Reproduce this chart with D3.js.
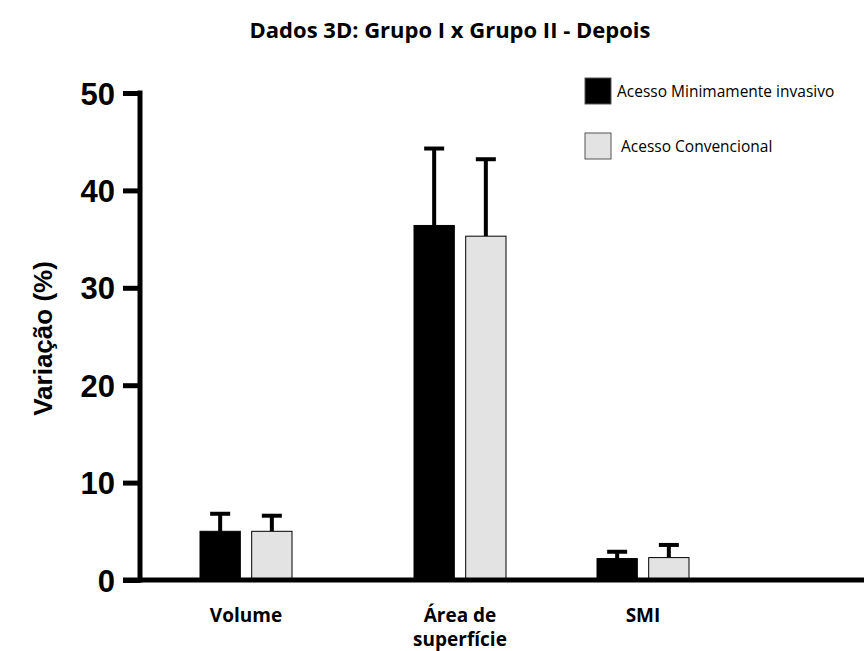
<!DOCTYPE html>
<html>
<head>
<meta charset="utf-8">
<script src="https://cdn.jsdelivr.net/npm/d3@7"></script>
<style>
  body { margin: 0; background: #fff; }
  svg { display: block; }
</style>
</head>
<body>
<div id="chart"></div>
<script>
// data
var categories = ['Volume', 'Área de superfície', 'SMI'];
var catLines = [['Volume'], ['Área de', 'superfície'], ['SMI']];
var seriesNames = ['Acesso Minimamente invasivo', 'Acesso Convencional'];
var seriesColors = ['#000', '#e3e3e3'];
var meanMin = [5.0, 36.4, 2.2];
var errMin = [1.8, 7.9, 0.7];
var meanConv = [5.0, 35.3, 2.3];
var errConv = [1.6, 7.9, 1.3];
var yTicks = [0, 10, 20, 30, 40, 50];

var W = 864, H = 651;
var svg = d3.select('#chart').append('svg')
    .attr('width', W)
    .attr('height', H);

var y = d3.scaleLinear().domain([0, 50]).range([580, 93]);
var x = d3.scaleOrdinal().domain(categories).range([246, 460, 643]);
var series = d3.scaleBand().domain(seriesNames).range([-46, 46]).paddingInner(0.22);

// title
svg.append('text')
    .attr('x', 450)
    .attr('y', 38)
    .attr('text-anchor', 'middle')
    .style('font-family', '"Open Sans", sans-serif')
    .style('font-weight', 'bold')
    .style('font-size', '22px')
    .text('Dados 3D: Grupo I x Grupo II - Depois');

// bars
var rows = [];
categories.forEach(function(c, i) {
    rows.push({cat: c, s: seriesNames[0], v: meanMin[i], e: errMin[i], col: seriesColors[0]});
    rows.push({cat: c, s: seriesNames[1], v: meanConv[i], e: errConv[i], col: seriesColors[1]});
});

var g = svg.append('g');

// error bars first (behind bars)
var eb = g.selectAll('g.err').data(rows).enter().append('g').attr('class', 'err');
eb.append('line')
    .attr('x1', function(d) { return x(d.cat) + series(d.s) + series.bandwidth() / 2; })
    .attr('x2', function(d) { return x(d.cat) + series(d.s) + series.bandwidth() / 2; })
    .attr('y1', function(d) { return y(d.v); })
    .attr('y2', function(d) { return y(d.v + d.e); })
    .attr('stroke', '#000')
    .attr('stroke-width', 4);
eb.append('line')
    .attr('x1', function(d) { return x(d.cat) + series(d.s) + series.bandwidth() / 2 - 10; })
    .attr('x2', function(d) { return x(d.cat) + series(d.s) + series.bandwidth() / 2 + 10; })
    .attr('y1', function(d) { return y(d.v + d.e); })
    .attr('y2', function(d) { return y(d.v + d.e); })
    .attr('stroke', '#000')
    .attr('stroke-width', 4);

g.selectAll('rect.bar').data(rows).enter().append('rect')
    .attr('class', 'bar')
    .attr('x', function(d) { return x(d.cat) + series(d.s); })
    .attr('y', function(d) { return y(d.v); })
    .attr('width', series.bandwidth())
    .attr('height', function(d) { return y(0) - y(d.v); })
    .attr('fill', function(d) { return d.col; })
    .attr('stroke', '#000')
    .attr('stroke-width', 1);

// y axis
var yAxis = d3.axisLeft(y).tickValues(yTicks).tickSize(17).tickPadding(8).tickSizeOuter(0);
var ag = svg.append('g').attr('transform', 'translate(140,0)').call(yAxis);
ag.select('.domain').remove();
ag.selectAll('.tick line').attr('stroke', '#000').attr('stroke-width', 5);
ag.selectAll('.tick text')
    .attr('dy', '0.36em')
    .style('font-family', '"Liberation Sans", Arial, sans-serif')
    .style('font-weight', 'bold')
    .style('font-size', '31px')
    .attr('fill', '#000');

// axis lines
svg.append('line')
    .attr('x1', 140).attr('x2', 140)
    .attr('y1', y(50) - 2.5).attr('y2', y(0) + 2.5)
    .attr('stroke', '#000').attr('stroke-width', 5);
svg.append('line')
    .attr('x1', 123).attr('x2', W)
    .attr('y1', y(0)).attr('y2', y(0))
    .attr('stroke', '#000').attr('stroke-width', 5);

// y label
svg.append('text')
    .attr('transform', 'translate(52,' + (y(25) + 2) + ') rotate(-90)')
    .attr('text-anchor', 'middle')
    .style('font-family', '"Liberation Sans", Arial, sans-serif')
    .style('font-weight', 'bold')
    .style('font-size', '26px')
    .text('Variação (%)');

// x labels
var xl = svg.selectAll('text.xlab').data(categories).enter().append('text')
    .attr('class', 'xlab')
    .attr('text-anchor', 'middle')
    .attr('y', 622)
    .style('font-family', '"Open Sans", sans-serif')
    .style('font-weight', 'bold')
    .style('font-size', '19px');
xl.each(function(d, i) {
    var t = d3.select(this);
    catLines[i].forEach(function(line, j) {
        t.append('tspan')
            .attr('x', x(d))
            .attr('dy', j === 0 ? 0 : 24)
            .text(line);
    });
});

// legend
var lg = svg.selectAll('g.leg').data(seriesNames).enter().append('g')
    .attr('class', 'leg')
    .attr('transform', function(d, i) { return 'translate(585,' + (78 + i * 55) + ')'; });
lg.append('rect')
    .attr('width', 26).attr('height', 26)
    .attr('fill', function(d, i) { return seriesColors[i]; })
    .attr('stroke', '#555').attr('stroke-width', 1);
lg.append('text')
    .attr('x', function(d, i) { return i === 0 ? 32 : 36; })
    .attr('y', 19)
    .style('font-family', '"Open Sans", sans-serif')
    .style('font-size', '15.5px')
    .text(function(d) { return d; });
</script>
</body>
</html>
